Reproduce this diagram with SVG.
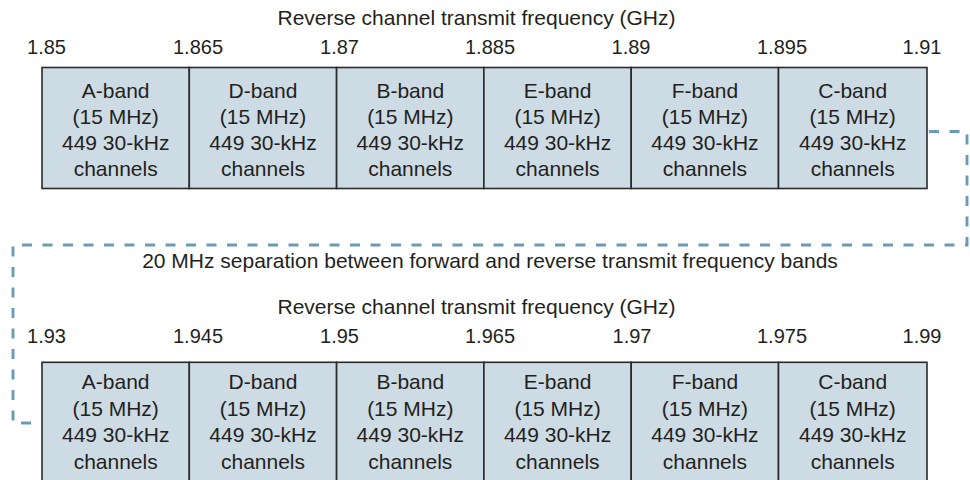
<svg xmlns="http://www.w3.org/2000/svg" width="970" height="480" viewBox="0 0 970 480">
<style>
text{font-family:"Liberation Sans",Arial,sans-serif;fill:#231f20}
.t{font-size:21px;text-anchor:middle}
.k{font-size:20px;text-anchor:middle}
.b{fill:#cddbe4;stroke:#2b2b2b;stroke-width:1.6}
.c{fill:none;stroke:#6a9bb6;stroke-width:2.9;stroke-dasharray:10 10.5}
</style>
<rect width="970" height="480" fill="#fff"/>
<g id="labels-top">
<text class="t" x="476.5" y="25">Reverse channel transmit frequency (GHz)</text>
<text class="k" x="46.5" y="54">1.85</text>
<text class="k" x="198" y="54">1.865</text>
<text class="k" x="339.5" y="54">1.87</text>
<text class="k" x="490" y="54">1.885</text>
<text class="k" x="631" y="54">1.89</text>
<text class="k" x="782" y="54">1.895</text>
<text class="k" x="922" y="54">1.91</text>
</g>
<g id="top-A"><rect class="b" x="42" y="67.5" width="147.3" height="121"/><text class="t"><tspan x="115.7" y="97.5">A-band</tspan><tspan x="115.7" y="123.5">(15 MHz)</tspan><tspan x="115.7" y="149.5">449 30-kHz</tspan><tspan x="115.7" y="175.5">channels</tspan></text></g>
<g id="top-D"><rect class="b" x="189.3" y="67.5" width="147.3" height="121"/><text class="t"><tspan x="263" y="97.5">D-band</tspan><tspan x="263" y="123.5">(15 MHz)</tspan><tspan x="263" y="149.5">449 30-kHz</tspan><tspan x="263" y="175.5">channels</tspan></text></g>
<g id="top-B"><rect class="b" x="336.6" y="67.5" width="147.3" height="121"/><text class="t"><tspan x="410.3" y="97.5">B-band</tspan><tspan x="410.3" y="123.5">(15 MHz)</tspan><tspan x="410.3" y="149.5">449 30-kHz</tspan><tspan x="410.3" y="175.5">channels</tspan></text></g>
<g id="top-E"><rect class="b" x="483.9" y="67.5" width="147.3" height="121"/><text class="t"><tspan x="557.6" y="97.5">E-band</tspan><tspan x="557.6" y="123.5">(15 MHz)</tspan><tspan x="557.6" y="149.5">449 30-kHz</tspan><tspan x="557.6" y="175.5">channels</tspan></text></g>
<g id="top-F"><rect class="b" x="631.2" y="67.5" width="147.3" height="121"/><text class="t"><tspan x="704.9" y="97.5">F-band</tspan><tspan x="704.9" y="123.5">(15 MHz)</tspan><tspan x="704.9" y="149.5">449 30-kHz</tspan><tspan x="704.9" y="175.5">channels</tspan></text></g>
<g id="top-C"><rect class="b" x="778.5" y="67.5" width="148.5" height="121"/><text class="t"><tspan x="852.7" y="97.5">C-band</tspan><tspan x="852.7" y="123.5">(15 MHz)</tspan><tspan x="852.7" y="149.5">449 30-kHz</tspan><tspan x="852.7" y="175.5">channels</tspan></text></g>
<g id="separation-label">
<text class="t" x="490" y="268">20 MHz separation between forward and reverse transmit frequency bands</text>
</g>
<g id="labels-bottom">
<text class="t" x="476.5" y="314">Reverse channel transmit frequency (GHz)</text>
<text class="k" x="46.5" y="343">1.93</text>
<text class="k" x="198" y="343">1.945</text>
<text class="k" x="339.5" y="343">1.95</text>
<text class="k" x="490" y="343">1.965</text>
<text class="k" x="632" y="343">1.97</text>
<text class="k" x="782" y="343">1.975</text>
<text class="k" x="922" y="343">1.99</text>
</g>
<g id="bottom-A"><rect class="b" x="42" y="362.3" width="147.3" height="121"/><text class="t"><tspan x="115.7" y="389">A-band</tspan><tspan x="115.7" y="415.5">(15 MHz)</tspan><tspan x="115.7" y="442">449 30-kHz</tspan><tspan x="115.7" y="468.5">channels</tspan></text></g>
<g id="bottom-D"><rect class="b" x="189.3" y="362.3" width="147.3" height="121"/><text class="t"><tspan x="263" y="389">D-band</tspan><tspan x="263" y="415.5">(15 MHz)</tspan><tspan x="263" y="442">449 30-kHz</tspan><tspan x="263" y="468.5">channels</tspan></text></g>
<g id="bottom-B"><rect class="b" x="336.6" y="362.3" width="147.3" height="121"/><text class="t"><tspan x="410.3" y="389">B-band</tspan><tspan x="410.3" y="415.5">(15 MHz)</tspan><tspan x="410.3" y="442">449 30-kHz</tspan><tspan x="410.3" y="468.5">channels</tspan></text></g>
<g id="bottom-E"><rect class="b" x="483.9" y="362.3" width="147.3" height="121"/><text class="t"><tspan x="557.6" y="389">E-band</tspan><tspan x="557.6" y="415.5">(15 MHz)</tspan><tspan x="557.6" y="442">449 30-kHz</tspan><tspan x="557.6" y="468.5">channels</tspan></text></g>
<g id="bottom-F"><rect class="b" x="631.2" y="362.3" width="147.3" height="121"/><text class="t"><tspan x="704.9" y="389">F-band</tspan><tspan x="704.9" y="415.5">(15 MHz)</tspan><tspan x="704.9" y="442">449 30-kHz</tspan><tspan x="704.9" y="468.5">channels</tspan></text></g>
<g id="bottom-C"><rect class="b" x="778.5" y="362.3" width="148.5" height="121"/><text class="t"><tspan x="852.7" y="389">C-band</tspan><tspan x="852.7" y="415.5">(15 MHz)</tspan><tspan x="852.7" y="442">449 30-kHz</tspan><tspan x="852.7" y="468.5">channels</tspan></text></g>
<g id="connectors">
<path class="c" d="M929 131.5 H967 V245 H13 V423 H40"/>
</g>
</svg>
